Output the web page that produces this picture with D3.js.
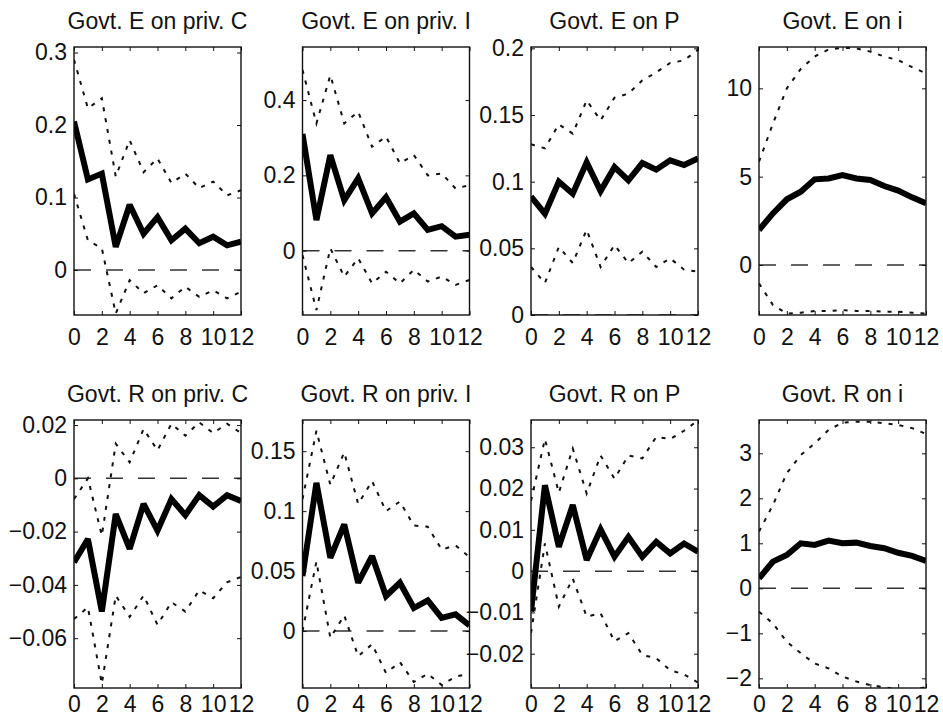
<!DOCTYPE html>
<html>
<head>
<meta charset="utf-8">
<script src="https://cdn.jsdelivr.net/npm/d3@7/dist/d3.min.js"></script>
<style>
  body { margin: 0; background: #fff; }
  svg text { font-family: "Liberation Sans", Arial, Helvetica, sans-serif; }
</style>
</head>
<body>
<svg id="chart"></svg>
<script>
// horizons and tick values
var horizons = [0, 1, 2, 3, 4, 5, 6, 7, 8, 9, 10, 11, 12];
var xTicks = [0, 2, 4, 6, 8, 10, 12];

var titles = [
  "Govt. E on priv. C", "Govt. E on priv. I", "Govt. E on P", "Govt. E on i",
  "Govt. R on priv. C", "Govt. R on priv. I", "Govt. R on P", "Govt. R on i"
];

var yRanges = [
  [-0.062, 0.3076], [-0.171, 0.541], [0, 0.201], [-2.83, 12.34],
  [-0.0787, 0.0219], [-0.0475, 0.176], [-0.0283, 0.0366], [-2.215, 3.74]
];

var yTicks = [
  [0, 0.1, 0.2, 0.3],
  [0, 0.2, 0.4],
  [0, 0.05, 0.1, 0.15, 0.2],
  [0, 5, 10],
  [-0.06, -0.04, -0.02, 0, 0.02],
  [0, 0.05, 0.1, 0.15],
  [-0.02, -0.01, 0, 0.01, 0.02, 0.03],
  [-2, -1, 0, 1, 2, 3]
];

// point responses (thick line)
var eOnC = [0.205, 0.125, 0.133, 0.032, 0.09, 0.05, 0.073, 0.041, 0.057, 0.037, 0.046, 0.034, 0.039];
var eOnI = [0.31, 0.081, 0.254, 0.134, 0.192, 0.099, 0.142, 0.077, 0.099, 0.055, 0.065, 0.037, 0.042];
var eOnP = [0.0888, 0.076, 0.1, 0.091, 0.1145, 0.093, 0.111, 0.101, 0.114, 0.109, 0.116, 0.1125, 0.1175];
var eOnRate = [1.98, 2.92, 3.72, 4.15, 4.85, 4.9, 5.09, 4.9, 4.81, 4.47, 4.21, 3.83, 3.49];
var rOnC = [-0.0315, -0.0228, -0.05, -0.0134, -0.0265, -0.0096, -0.0196, -0.0078, -0.0138, -0.0063, -0.0106, -0.0063, -0.0085];
var rOnI = [0.0458, 0.1236, 0.0611, 0.0889, 0.0403, 0.0625, 0.0292, 0.0403, 0.0192, 0.0256, 0.011, 0.0139, 0.0047];
var rOnP = [-0.0098, 0.0208, 0.0059, 0.016, 0.0027, 0.0101, 0.0035, 0.0083, 0.0035, 0.0071, 0.0043, 0.0067, 0.0047];
var rOnRate = [0.222, 0.593, 0.74, 1.0, 0.963, 1.06, 1.0, 1.015, 0.94, 0.89, 0.79, 0.72, 0.607];

// upper bands
var eOnCHi = [0.29, 0.223, 0.237, 0.129, 0.179, 0.135, 0.154, 0.12, 0.133, 0.113, 0.122, 0.103, 0.11];
var eOnIHi = [0.48, 0.338, 0.466, 0.338, 0.369, 0.276, 0.303, 0.232, 0.254, 0.2, 0.205, 0.165, 0.174];
var eOnPHi = [0.128, 0.125, 0.143, 0.136, 0.161, 0.146, 0.163, 0.166, 0.176, 0.182, 0.189, 0.191, 0.199];
var eOnRateHi = [5.85, 8.0, 10.0, 11.1, 11.8, 12.2, 12.3, 12.26, 12.08, 11.8, 11.6, 11.2, 10.85];
var rOnCHi = [-0.0078, 0.0, -0.0215, 0.013, 0.006, 0.0185, 0.0105, 0.0205, 0.016, 0.021, 0.017, 0.0205, 0.017];
var rOnIHi = [0.11, 0.167, 0.122, 0.149, 0.106, 0.125, 0.1, 0.108, 0.088, 0.087, 0.068, 0.0714, 0.0617];
var rOnPHi = [0.017, 0.032, 0.019, 0.0297, 0.0188, 0.028, 0.0224, 0.028, 0.0273, 0.0325, 0.032, 0.034, 0.0365];
var rOnRateHi = [1.26, 1.85, 2.56, 2.96, 3.22, 3.52, 3.68, 3.7, 3.7, 3.67, 3.63, 3.56, 3.43];

// lower bands
var eOnCLo = [0.105, 0.041, 0.03, -0.06, -0.014, -0.032, -0.021, -0.039, -0.023, -0.037, -0.028, -0.039, -0.03];
var eOnILo = [-0.012, -0.158, 0.006, -0.069, -0.02, -0.087, -0.056, -0.087, -0.051, -0.082, -0.069, -0.091, -0.078];
var eOnPLo = [0.036, 0.024, 0.051, 0.039, 0.064, 0.036, 0.0525, 0.039, 0.0475, 0.036, 0.0425, 0.034, 0.0325];
var eOnRateLo = [-1.04, -2.26, -2.75, -2.7, -2.6, -2.6, -2.55, -2.6, -2.6, -2.65, -2.65, -2.7, -2.75];
var rOnCLo = [-0.0528, -0.0484, -0.0771, -0.044, -0.052, -0.044, -0.055, -0.0465, -0.05, -0.042, -0.045, -0.039, -0.037];
var rOnILo = [0.0, 0.058, -0.0056, 0.013, -0.021, -0.011, -0.035, -0.026, -0.0425, -0.0356, -0.045, -0.038, -0.0356];
var rOnPLo = [-0.015, 0.0067, -0.0086, -0.0018, -0.011, -0.0102, -0.017, -0.015, -0.0203, -0.0211, -0.024, -0.025, -0.027];
var rOnRateLo = [-0.52, -0.78, -1.19, -1.44, -1.67, -1.78, -1.96, -2.07, -2.15, -2.2, -2.25, -2.25, -2.2];

var responses = [eOnC, eOnI, eOnP, eOnRate, rOnC, rOnI, rOnP, rOnRate];
var uppers = [eOnCHi, eOnIHi, eOnPHi, eOnRateHi, rOnCHi, rOnIHi, rOnPHi, rOnRateHi];
var lowers = [eOnCLo, eOnILo, eOnPLo, eOnRateLo, rOnCLo, rOnILo, rOnPLo, rOnRateLo];

var width = 943,
    height = 721;

var panelW = 167,
    panelH = 268;

var lefts = [74, 302.5, 531, 759],
    tops = [47, 420],
    xLabelPad = [14, 8];

var fontSize = 23;

var svg = d3.select("#chart")
  .attr("width", width)
  .attr("height", height);

var defs = svg.append("defs");

// MATLAB style numbers with a real minus sign
var fmt = function (d) { return String(d).replace("-", "\u2212"); };

titles.forEach(function (title, i) {
  var col = i % 4,
      row = Math.floor(i / 4);

  var x = d3.scaleLinear().domain([0, 12]).range([0, panelW]);
  var y = d3.scaleLinear().domain(yRanges[i]).range([panelH, 0]);

  var g = svg.append("g")
    .attr("transform", "translate(" + lefts[col] + "," + tops[row] + ")");

  defs.append("clipPath")
    .attr("id", "clip" + i)
    .append("rect")
    .attr("width", panelW)
    .attr("height", panelH);

  var plot = g.append("g").attr("clip-path", "url(#clip" + i + ")");

  var line = d3.line()
    .x(function (d, k) { return x(horizons[k]); })
    .y(function (d) { return y(d); });

  // zero line
  plot.append("line")
    .attr("x1", x(0))
    .attr("x2", x(12))
    .attr("y1", y(0))
    .attr("y2", y(0))
    .style("stroke", "#333")
    .style("stroke-width", 1.5)
    .style("stroke-dasharray", "17,15");

  // error bands
  [uppers[i], lowers[i]].forEach(function (band) {
    plot.append("path")
      .attr("d", line(band))
      .style("fill", "none")
      .style("stroke", "#111")
      .style("stroke-width", 2)
      .style("stroke-dasharray", "4,7");
  });

  plot.append("path")
    .attr("d", line(responses[i]))
    .style("fill", "none")
    .style("stroke", "#000")
    .style("stroke-width", 6)
    .style("stroke-linejoin", "miter")
    .style("stroke-miterlimit", 2.5);

  // axes, ticks pointing inwards on all four sides
  var bottom = g.append("g")
    .attr("transform", "translate(0," + panelH + ")")
    .call(d3.axisBottom(x).tickValues(xTicks).tickSize(-4).tickSizeOuter(0)
      .tickPadding(xLabelPad[row]).tickFormat(d3.format("d")));

  var top = g.append("g")
    .call(d3.axisTop(x).tickValues(xTicks).tickSize(-4).tickSizeOuter(0).tickFormat(""));

  var left = g.append("g")
    .call(d3.axisLeft(y).tickValues(yTicks[i]).tickSize(-4).tickSizeOuter(0)
      .tickPadding(7).tickFormat(fmt));

  var right = g.append("g")
    .attr("transform", "translate(" + panelW + ",0)")
    .call(d3.axisRight(y).tickValues(yTicks[i]).tickSize(-4).tickSizeOuter(0).tickFormat(""));

  [bottom, top, left, right].forEach(function (a) {
    a.select(".domain").remove();
    a.attr("font-size", fontSize)
      .attr("font-family", null)
      .style("color", "#111");
    a.selectAll(".tick line").style("stroke-width", 1);
  });

  g.append("rect")
    .attr("width", panelW)
    .attr("height", panelH)
    .style("fill", "none")
    .style("stroke", "#111")
    .style("stroke-width", 1.4);

  g.append("text")
    .attr("x", panelW / 2)
    .attr("y", -18)
    .attr("text-anchor", "middle")
    .style("font-size", fontSize + "px")
    .style("fill", "#111")
    .text(title);
});
</script>
</body>
</html>
